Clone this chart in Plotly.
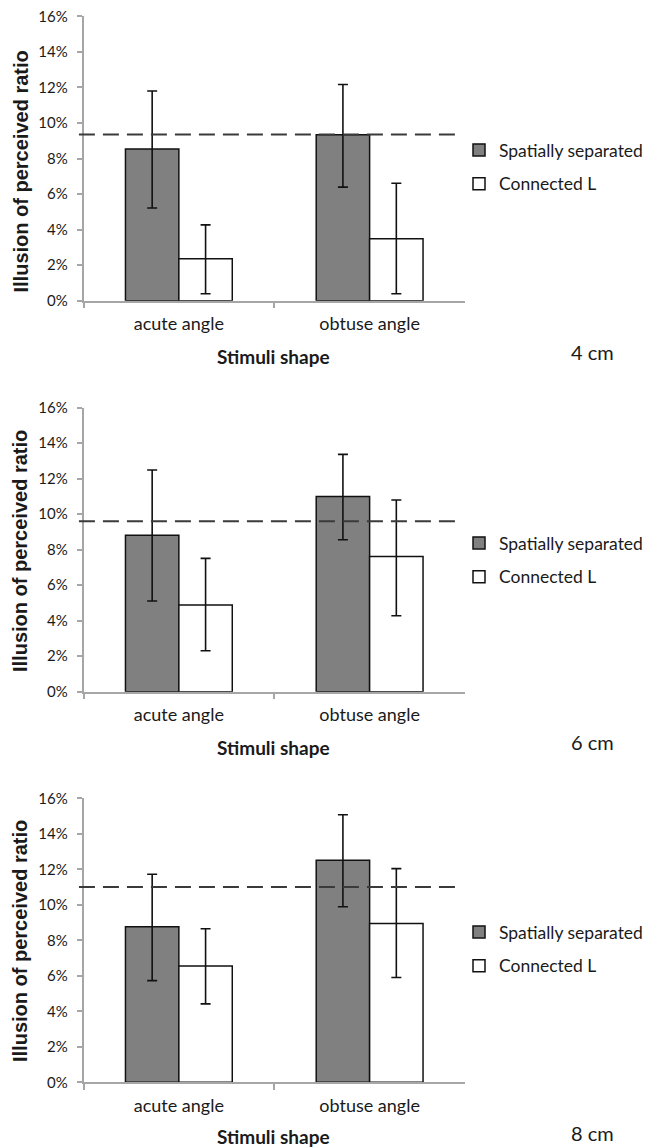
import plotly.graph_objects as go

W, H = 646, 1148

categories = ["acute angle", "obtuse angle"]
series_names = ["Spatially separated", "Connected L"]
panel_labels = ["4 cm", "6 cm", "8 cm"]

# values in percent, per panel [acute, obtuse]
sep_4 = [8.54, 9.34]
sep_4_hi = [11.80, 12.17]
sep_4_lo = [5.22, 6.39]
con_4 = [2.36, 3.48]
con_4_hi = [4.27, 6.61]
con_4_lo = [0.39, 0.39]
ref_4 = 9.36

sep_6 = [8.81, 11.00]
sep_6_hi = [12.49, 13.37]
sep_6_lo = [5.11, 8.56]
con_6 = [4.88, 7.61]
con_6_hi = [7.51, 10.80]
con_6_lo = [2.31, 4.28]
ref_6 = 9.60

sep_8 = [8.76, 12.51]
sep_8_hi = [11.72, 15.07]
sep_8_lo = [5.73, 9.89]
con_8 = [6.55, 8.95]
con_8_hi = [8.65, 12.04]
con_8_lo = [4.42, 5.90]
ref_8 = 11.00

y_ticks = [0, 2, 4, 6, 8, 10, 12, 14, 16]
y_tick_labels = ["0%", "2%", "4%", "6%", "8%", "10%", "12%", "14%", "16%"]
y_title = "Illusion of perceived ratio"
x_title = "Stimuli shape"

panels = [
    (sep_4, sep_4_hi, sep_4_lo, con_4, con_4_hi, con_4_lo, ref_4),
    (sep_6, sep_6_hi, sep_6_lo, con_6, con_6_hi, con_6_lo, ref_6),
    (sep_8, sep_8_hi, sep_8_lo, con_8, con_8_hi, con_8_lo, ref_8),
]

def px(x):
    return x / W

def py(y):
    return 1 - y / H

# pixel layout of each panel: (y of 0%, y of 16%)
panel_px = [(300.7, 16.4), (691.7, 407.7), (1082.3, 798.3)]
x_left, x_right = 83.5, 465.0
ytitle_center = [171.5, 551.0, 941.0]
xtitle_y = [356.0, 747.0, 1136.0]
cm_y = [352.0, 742.0, 1133.0]
legend_top = [132.0, 525.0, 914.0]

FONT = "Lato"
GRAY = "#a6a6a6"

fig = go.Figure()
layout = dict(
    width=W, height=H,
    margin=dict(l=0, r=0, t=0, b=0, autoexpand=False),
    paper_bgcolor="white", plot_bgcolor="white",
    barmode="group", bargap=0.44, bargroupgap=0,
    font=dict(family=FONT, color="#1a1a1a"),
    showlegend=True,
)
annotations = []
shapes = []

for i, (sep, sep_hi, sep_lo, con, con_hi, con_lo, ref) in enumerate(panels):
    sfx = "" if i == 0 else str(i + 1)
    leg = "legend" if i == 0 else f"legend{i + 1}"
    for name, vals, hi, lo, fill in [
        (series_names[0], sep, sep_hi, sep_lo, "#808080"),
        (series_names[1], con, con_hi, con_lo, "#ffffff"),
    ]:
        fig.add_trace(go.Bar(
            x=categories, y=vals, name=name,
            xaxis="x" + sfx, yaxis="y" + sfx, legend=leg,
            legendgroup=f"{name}{i}",
            marker=dict(color=fill, line=dict(color="#111111", width=1.5)),
            error_y=dict(type="data", symmetric=False,
                         array=[h - v for h, v in zip(hi, vals)],
                         arrayminus=[v - l for l, v in zip(lo, vals)],
                         color="#111111", thickness=1.6, width=5),
        ))
    y0, y1 = panel_px[i]
    layout["xaxis" + sfx] = dict(
        domain=[px(x_left), px(x_right)], anchor="y" + sfx,
        type="category", showline=True, linecolor=GRAY, linewidth=1.5,
        ticks="outside", tickson="boundaries", ticklen=6, tickcolor=GRAY, tickwidth=1.5,
        tickfont=dict(family=FONT, size=18, color="#1a1a1a"),
        ticklabelstandoff=6,
        showgrid=False, zeroline=False, fixedrange=True,
    )
    layout["yaxis" + sfx] = dict(
        domain=[py(y0), py(y1)], anchor="x" + sfx,
        range=[0, 16], tickmode="array", tickvals=y_ticks, ticktext=y_tick_labels,
        showline=True, linecolor=GRAY, linewidth=1.5,
        ticks="outside", ticklen=5, tickcolor=GRAY, tickwidth=1.5,
        tickfont=dict(family=FONT, size=15, color="#1a1a1a"),
        ticklabelstandoff=6,
        showgrid=False, zeroline=False, fixedrange=True,
    )
    layout[leg] = dict(
        x=px(459), y=py(legend_top[i]), xanchor="left", yanchor="top",
        xref="paper", yref="paper",
        bgcolor="rgba(0,0,0,0)", borderwidth=0,
        font=dict(family=FONT, size=17.5, color="#1a1a1a"),
        tracegroupgap=8, traceorder="grouped",
    )
    shapes.append(dict(
        type="line", xref=f"x{sfx} domain", yref="y" + sfx,
        x0=-0.012, x1=0.982, y0=ref, y1=ref,
        line=dict(color="#3a3a3a", width=2, dash="16px,8px"),
    ))
    annotations.append(dict(
        text=f"<b>{y_title}</b>", textangle=-90, showarrow=False,
        xref="paper", yref="paper", x=px(20), y=py(ytitle_center[i]),
        xanchor="center", yanchor="middle",
        font=dict(family="Liberation Sans", size=20, color="#1a1a1a"),
    ))
    annotations.append(dict(
        text=f"<b>{x_title}</b>", showarrow=False,
        xref="paper", yref="paper", x=px(273), y=py(xtitle_y[i]),
        xanchor="center", yanchor="middle",
        font=dict(family=FONT, size=19, color="#1a1a1a"),
    ))
    annotations.append(dict(
        text=panel_labels[i], showarrow=False,
        xref="paper", yref="paper", x=px(592), y=py(cm_y[i]),
        xanchor="center", yanchor="middle",
        font=dict(family=FONT, size=20, color="#1a1a1a"),
    ))

layout["annotations"] = annotations
layout["shapes"] = shapes
fig.update_layout(**layout)
fig.write_html("out.html")
